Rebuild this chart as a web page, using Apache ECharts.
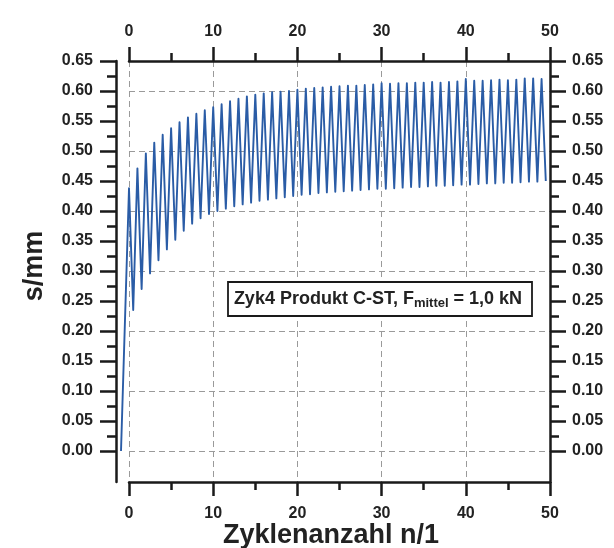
<!DOCTYPE html>
<html>
<head>
<meta charset="utf-8">
<script src="https://cdn.jsdelivr.net/npm/echarts@6/dist/echarts.min.js"></script>
<style>
  html, body { margin: 0; padding: 0; background: #ffffff; }
  #chart { width: 614px; height: 548px; }
</style>
</head>
<body>
<div id="chart"></div>
<script>
// ---- data ----
const startPoint = [-0.95, 0.0];           // first loading ramp start
// peak displacement of each cycle (cycle index 0..49)
const peakValues = [
  0.438, 0.471, 0.496, 0.514, 0.527, 0.538, 0.548, 0.556, 0.562, 0.568,
  0.573, 0.578, 0.583, 0.587, 0.591, 0.594, 0.596, 0.598, 0.599, 0.600,
  0.602, 0.604, 0.605, 0.606, 0.607, 0.608, 0.609, 0.609, 0.610, 0.611,
  0.613, 0.612, 0.613, 0.613, 0.614, 0.614, 0.615, 0.614, 0.615, 0.616,
  0.620, 0.617, 0.617, 0.618, 0.619, 0.618, 0.619, 0.621, 0.621, 0.620
];
// trough displacement after each peak (half cycle later)
const troughValues = [
  0.235, 0.270, 0.296, 0.318, 0.336, 0.352, 0.367, 0.379, 0.388, 0.395,
  0.400, 0.404, 0.408, 0.411, 0.414, 0.417, 0.419, 0.421, 0.423, 0.425,
  0.427, 0.428, 0.430, 0.431, 0.432, 0.433, 0.434, 0.435, 0.436, 0.437,
  0.437, 0.438, 0.439, 0.440, 0.440, 0.441, 0.442, 0.442, 0.443, 0.444,
  0.444, 0.445, 0.446, 0.446, 0.447, 0.447, 0.448, 0.449, 0.449, 0.450
];
const xTicks = { min: 0, max: 50, step: 10 };
const yTicks = { min: 0, max: 0.65, step: 0.05, gridStep: 0.1 };
const yTitle = 's/mm';
const xTitle = 'Zyklenanzahl n/1';

// ---- build series from arrays ----
const seriesData = [startPoint];
for (let k = 0; k < peakValues.length; k++) {
  seriesData.push([k, peakValues[k]]);
  seriesData.push([k + 0.5, troughValues[k]]);
}

const FONT = '"Liberation Sans", Arial, sans-serif';
const BLACK = '#1a1a1a';
const AXW = 2.5;
const labelStyle = { fontFamily: FONT, fontWeight: 'bold', fontSize: 16, color: '#222' };
const dashed = { color: '#9a9a9a', width: 1, type: [6, 4] };

const chart = echarts.init(document.getElementById('chart'), null, { renderer: 'canvas' });

function yTickAxis(pos) {
  return {
    gridIndex: 2, type: 'value', position: pos, min: yTicks.min, max: yTicks.max, interval: yTicks.step,
    axisLine: { show: false },
    axisTick: { show: true, inside: false, length: 16, lineStyle: { color: BLACK, width: AXW } },
    minorTick: { show: true, splitNumber: 2, length: 9, lineStyle: { color: BLACK, width: AXW } },
    axisLabel: Object.assign({ margin: pos === 'left' ? 23 : 22, formatter: v => v.toFixed(2) }, labelStyle),
    splitLine: { show: false }
  };
}
function xTickAxis(pos, split) {
  return {
    gridIndex: 1, type: 'value', position: pos, min: xTicks.min, max: xTicks.max, interval: xTicks.step,
    axisLine: { show: true, onZero: false, lineStyle: { color: BLACK, width: AXW } },
    axisTick: { show: true, inside: false, length: 14, lineStyle: { color: BLACK, width: AXW } },
    minorTick: { show: true, splitNumber: 2, length: 8, lineStyle: { color: BLACK, width: AXW } },
    axisLabel: Object.assign({ margin: pos === 'top' ? 21 : 24 }, labelStyle),
    splitLine: { show: split, lineStyle: dashed }
  };
}
function frameAxis(pos) {
  return {
    gridIndex: 0, type: 'value', position: pos, min: -0.0517, max: 0.65,
    axisLine: { show: true, onZero: false, lineStyle: { color: BLACK, width: AXW } },
    axisTick: { show: false }, axisLabel: { show: false }, splitLine: { show: false }
  };
}

const option = {
  animation: false,
  backgroundColor: '#ffffff',
  grid: [
    { left: 116, top: 61, width: 434, height: 421 },   // 0 data + frame lines left/right
    { left: 129, top: 61, width: 421, height: 421 },   // 1 x axes top/bottom + vertical grid
    { left: 116, top: 61, width: 434, height: 390 },   // 2 y ticks/labels left/right
    { left: 129, top: 61, width: 421, height: 390 }    // 3 horizontal grid lines
  ],
  xAxis: [
    { gridIndex: 0, type: 'value', min: -1.544, max: 50, show: false },
    xTickAxis('bottom', true),
    xTickAxis('top', false),
    { gridIndex: 2, type: 'value', min: 0, max: 1, show: false },
    { gridIndex: 3, type: 'value', min: 0, max: 1, show: false }
  ],
  yAxis: [
    frameAxis('left'),
    frameAxis('right'),
    { gridIndex: 1, type: 'value', min: 0, max: 1, show: false },
    yTickAxis('left'),
    yTickAxis('right'),
    {
      gridIndex: 3, type: 'value', position: 'left', min: yTicks.min, max: yTicks.max, interval: yTicks.gridStep,
      axisLine: { show: false }, axisTick: { show: false }, axisLabel: { show: false },
      splitLine: { show: true, lineStyle: dashed }
    }
  ],
  series: [
    {
      type: 'line', xAxisIndex: 0, yAxisIndex: 0, data: seriesData,
      showSymbol: false, symbol: 'none',
      lineStyle: { color: '#2a5ca6', width: 1.9, join: 'round' },
      z: 3
    }
  ],
  graphic: [
    {
      type: 'text', x: 35, y: 266, rotation: Math.PI / 2,
      style: { text: yTitle, fontFamily: FONT, fontWeight: 'bold', fontSize: 27, fill: '#222', align: 'center', verticalAlign: 'middle' }
    },
    {
      type: 'text', x: 331, y: 536,
      style: { text: xTitle, fontFamily: FONT, fontWeight: 'bold', fontSize: 27, fill: '#222', align: 'center', verticalAlign: 'middle' }
    },
    {
      type: 'rect', shape: { x: 228, y: 282, width: 304, height: 34 }, z: 10,
      style: { fill: '#ffffff', stroke: BLACK, lineWidth: 1.8 }
    },
    {
      type: 'text', x: 378, y: 299, z: 11,
      style: {
        text: '{a|Zyk4 Produkt C-ST, F}{b|mittel}{a| = 1,0 kN}',
        align: 'center', verticalAlign: 'middle',
        rich: {
          a: { fontFamily: FONT, fontWeight: 'bold', fontSize: 18, fill: '#222', lineHeight: 22, verticalAlign: 'middle' },
          b: { fontFamily: FONT, fontWeight: 'bold', fontSize: 13, fill: '#222', lineHeight: 22, verticalAlign: 'bottom', padding: [6, 0, 0, 0] }
        }
      }
    }
  ]
};
chart.setOption(option);
</script>
</body>
</html>
